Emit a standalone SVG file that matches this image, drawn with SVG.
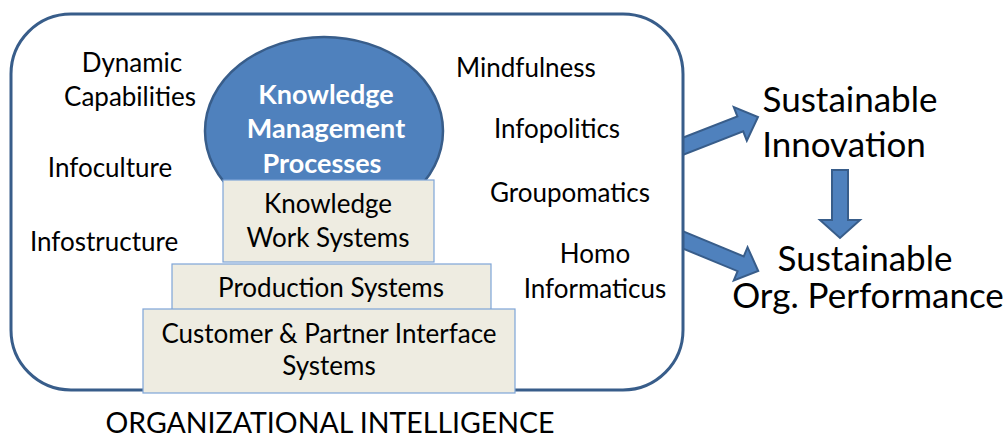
<svg xmlns="http://www.w3.org/2000/svg" width="1005" height="446" viewBox="0 0 1005 446">
<style>
text{font-family:Lato,"Open Sans","Liberation Sans",sans-serif;fill:#000;text-anchor:middle}
.t{font-size:26px}
.b{font-size:27px;font-weight:bold;fill:#fff}
.big{font-size:35px}
.box{fill:#eeece1;stroke:#7ea5d8;stroke-width:1.2}
.arr{fill:#4f81bd;stroke:#385d8a;stroke-width:2}
</style>
<g id="connectors">
<path class="arr" transform="translate(676,149) rotate(-21.3)" d="M0,-8 H69 V-18 L88,0 L69,18 V8 H0 Z"/>
<path class="arr" transform="translate(676,237) rotate(22.5)" d="M0,-8 H70 V-18 L89,0 L70,18 V8 H0 Z"/>
<path class="arr" d="M832,170 H848 V220 H860 L840,238 L820,220 H832 Z"/>
</g>
<g id="organizational-intelligence">
<rect x="11" y="14" width="672" height="376" rx="60" ry="60" fill="#fff" stroke="#385d8a" stroke-width="3"/>
</g>
<g id="labels-left">
<text class="t" x="132" y="72">Dynamic</text>
<text class="t" x="130" y="106">Capabilities</text>
<text class="t" x="110" y="177">Infoculture</text>
<text class="t" x="104" y="251">Infostructure</text>
</g>
<g id="labels-right">
<text class="t" x="526" y="77">Mindfulness</text>
<text class="t" x="557" y="138">Infopolitics</text>
<text class="t" x="570" y="202">Groupomatics</text>
<text class="t" x="595" y="263">Homo</text>
<text class="t" x="595" y="298">Informaticus</text>
</g>
<g id="km-processes">
<ellipse cx="324" cy="131" rx="119" ry="94" fill="#4f81bd" stroke="#385d8a" stroke-width="2.5"/>
<text class="b" x="326" y="104">Knowledge</text>
<text class="b" x="326" y="138">Management</text>
<text class="b" x="322" y="173">Processes</text>
</g>
<g id="knowledge-work-systems">
<rect class="box" x="223" y="180" width="211" height="82"/>
<text class="t" x="328" y="213">Knowledge</text>
<text class="t" x="328" y="247">Work Systems</text>
</g>
<g id="production-systems">
<rect class="box" x="172" y="264" width="319" height="46"/>
<text class="t" x="331" y="297">Production Systems</text>
</g>
<g id="customer-partner-interface-systems">
<rect class="box" x="143" y="309" width="372" height="84"/>
<text class="t" x="329" y="343">Customer &amp; Partner Interface</text>
<text class="t" x="329" y="375">Systems</text>
</g>
<g id="sustainable-innovation">
<text class="big" x="850" y="112">Sustainable</text>
<text class="big" x="844" y="157">Innovation</text>
</g>
<g id="sustainable-performance">
<text class="big" x="865" y="271">Sustainable</text>
<text class="big" x="868" y="308">Org. Performance</text>
</g>
<g id="title">
<text style="font-size:28.5px" x="330" y="433">ORGANIZATIONAL INTELLIGENCE</text>
</g>
</svg>
